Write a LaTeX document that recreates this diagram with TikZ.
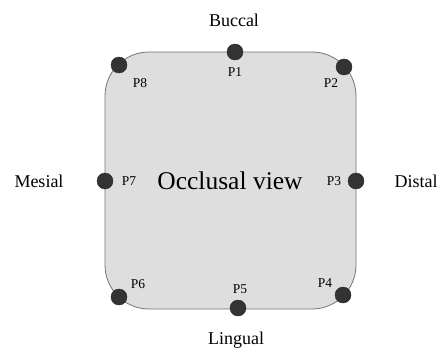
\documentclass[tikz,border=0pt]{standalone}
\usepackage{fontspec}
\setmainfont{Liberation Serif}
\begin{document}
\begin{tikzpicture}[x=1pt,y=-1pt,
  pt/.style={circle,fill=black!80,draw=black!85,line width=0.4pt,minimum size=16pt,inner sep=0pt},
  plabel/.style={font=\fontsize{13.5}{13.5}\selectfont,inner sep=0pt},
  side/.style={font=\fontsize{18}{18}\selectfont,inner sep=0pt}]
\useasboundingbox (0,0) rectangle (444,353);
% tooth outline
\draw[black!55,line width=0.8pt,fill=black!13,rounded corners=44pt] (105,52) rectangle (356,309);
\node[font=\fontsize{25.5}{25.5}\selectfont,inner sep=0pt] (title) at (230,181) {Occlusal view};
% measurement points
\node[pt] (p1) at (235,52) {};
\node[pt] (p2) at (344,67) {};
\node[pt] (p3) at (356,181) {};
\node[pt] (p4) at (343,295) {};
\node[pt] (p5) at (238,308) {};
\node[pt] (p6) at (119,297) {};
\node[pt] (p7) at (105,181) {};
\node[pt] (p8) at (119,65) {};
\node[plabel] (l1) at (235,72) {P1};
\node[plabel] (l2) at (331,83) {P2};
\node[plabel] (l3) at (334,181) {P3};
\node[plabel] (l4) at (325,283) {P4};
\node[plabel] (l5) at (240,289) {P5};
\node[plabel] (l6) at (138,284) {P6};
\node[plabel] (l7) at (129,181) {P7};
\node[plabel] (l8) at (140,83) {P8};
% surfaces
\node[side] (buccal) at (234,20) {Buccal};
\node[side] (lingual) at (236,340) {Lingual};
\node[side] (mesial) at (39,181) {Mesial};
\node[side] (distal) at (416,181) {Distal};
\end{tikzpicture}
\end{document}
